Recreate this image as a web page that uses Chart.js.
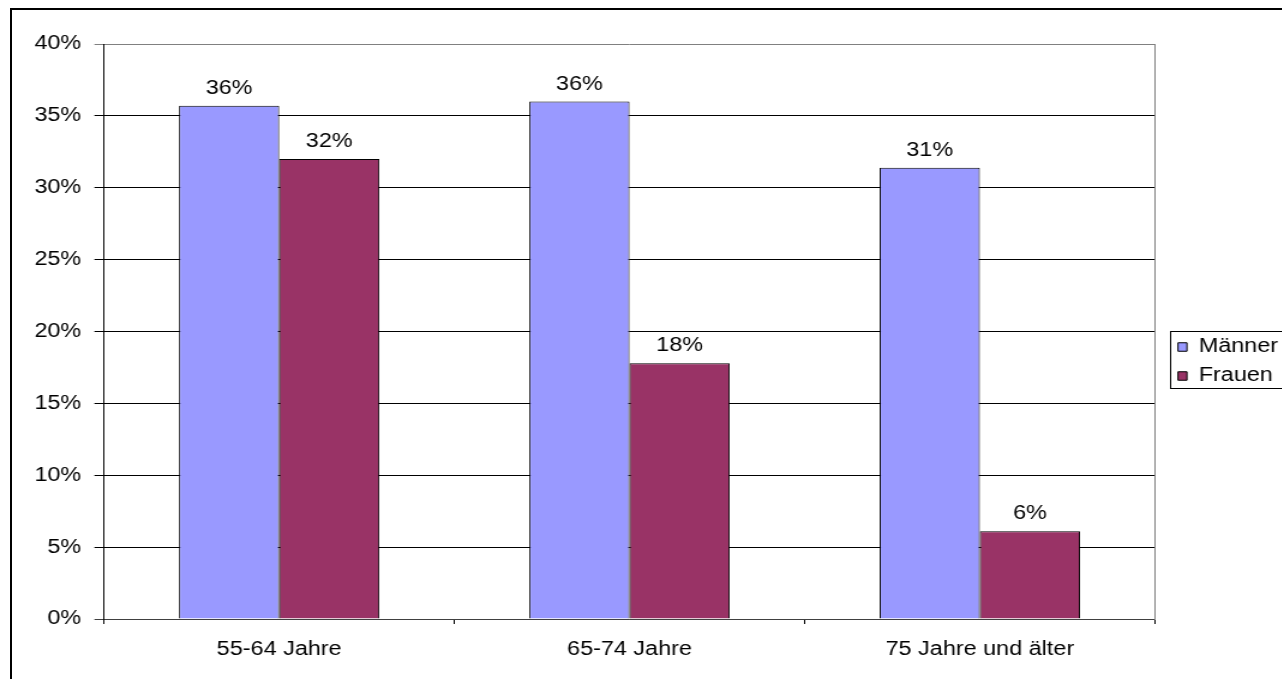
<!DOCTYPE html>
<html>
<head>
<meta charset="utf-8">
<script src="https://cdn.jsdelivr.net/npm/chart.js@4/dist/chart.umd.min.js"></script>
<style>
  html, body { margin: 0; padding: 0; background: #fff; }
  #wrap { position: absolute; left: 0; top: 0; width: 1282px; height: 679px; overflow: hidden; background: #fff; }
  #frame { position: absolute; left: 10px; top: 8px; width: 1400px; height: 800px; border: 2px solid #000; box-sizing: border-box; }
  #c { position: absolute; left: 0; top: 0; transform-origin: 0 0; }
</style>
</head>
<body>
<div id="wrap">
  <div id="frame"></div>
  <canvas id="c" height="679"></canvas>
</div>
<script>
// ---- data ----
const categories = ['55-64 Jahre', '65-74 Jahre', '75 Jahre und älter'];
const seriesNames = ['Männer', 'Frauen'];
const maenner = [35.7, 36.0, 31.4];
const frauen = [32.0, 17.8, 6.1];
const yTicks = [0, 5, 10, 15, 20, 25, 30, 35, 40];

// ---- layout helpers ----
const S = 1.2;                 // horizontal stretch of the reference rendering
const FONT_SIZE = 19.5;
const FONT_FAMILY = "'Liberation Sans', Arial, sans-serif";
const LEG_PAD = 9.5, BOX_W = 7.5, BOX_H = 8.5;
const meas = document.createElement('canvas').getContext('2d');
meas.font = FONT_SIZE + 'px ' + FONT_FAMILY;
const tw = Math.max(...seriesNames.map(n => meas.measureText(n).width));
const legendWidth = LEG_PAD + BOX_W + FONT_SIZE / 2 + tw + 10;
const plotLeft = 104 / S;
const plotRight = 1155 / S;
const gap = 9.5;
const W = Math.ceil(plotRight + gap + legendWidth);
const y2Width = W - legendWidth - plotRight;

const canvas = document.getElementById('c');
canvas.width = W;
canvas.height = 679;
canvas.style.transform = 'scaleX(' + S + ')';

const font = { family: FONT_FAMILY, size: FONT_SIZE };

const valueLabels = {
  id: 'valueLabels',
  afterDatasetsDraw(chart) {
    const ctx = chart.ctx;
    ctx.save();
    ctx.font = FONT_SIZE + 'px ' + FONT_FAMILY;
    ctx.fillStyle = '#000';
    ctx.textAlign = 'center';
    ctx.textBaseline = 'alphabetic';
    chart.data.datasets.forEach((ds, i) => {
      chart.getDatasetMeta(i).data.forEach((bar, j) => {
        ctx.fillText(Math.round(ds.data[j]) + '%', bar.x, bar.y - 12);
      });
    });
    ctx.restore();
  }
};

const legendFrame = {
  id: 'legendFrame',
  afterDraw(chart) {
    const hb = chart.legend && chart.legend.legendHitBoxes;
    if (!hb || !hb.length) return;
    const ctx = chart.ctx;
    const left = hb[0].left - 7;
    const top = hb[0].top - 6.5;
    const last = hb[hb.length - 1];
    const bottom = last.top + last.height + 1.5;
    ctx.save();
    ctx.strokeStyle = '#000';
    ctx.lineWidth = 1;
    ctx.strokeRect(Math.round(left) + 0.5, Math.round(top) + 0.5, chart.width, Math.round(bottom - top));
    ctx.restore();
  }
};

new Chart(canvas, {
  type: 'bar',
  data: {
    labels: categories,
    datasets: [
      { label: seriesNames[0], data: maenner, backgroundColor: '#9999FF', borderColor: '#000', borderWidth: 1 },
      { label: seriesNames[1], data: frauen, backgroundColor: '#993366', borderColor: '#000', borderWidth: 1 }
    ]
  },
  options: {
    responsive: false,
    devicePixelRatio: 1,
    animation: false,
    layout: { padding: { top: 44, left: 0, right: 0, bottom: 0 } },
    datasets: { bar: { categoryPercentage: 0.572, barPercentage: 1.0 } },
    plugins: {
      legend: {
        position: 'right',
        align: 'center',
        labels: { font: font, color: '#000', boxWidth: BOX_W, boxHeight: BOX_H, padding: LEG_PAD }
      },
      tooltip: { enabled: false }
    },
    scales: {
      x: {
        grid: { display: true, drawOnChartArea: false, drawTicks: true, tickLength: 5, color: '#000', offset: true },
        border: { display: true, color: '#404040', width: 1 },
        ticks: { font: font, color: '#000', padding: 14, maxRotation: 0 },
        afterFit(s) { s.height = 60; }
      },
      y: {
        min: 0, max: 40,
        afterBuildTicks(s) { s.ticks = yTicks.map(v => ({ value: v })); },
        grid: {
          color: (c) => (c.tick && c.tick.value === 40) ? '#808080' : (c.tick && c.tick.value === 0 ? '#404040' : '#000'),
          tickLength: 8,
          drawTicks: true
        },
        border: { display: true, color: '#000', width: 1 },
        ticks: { font: font, color: '#000', padding: 11, callback: (v) => v + '%' },
        afterFit(s) { s.width = plotLeft; }
      },
      y2: {
        position: 'right',
        display: true,
        grid: { display: false },
        ticks: { display: false },
        border: { display: true, color: '#808080', width: 1 },
        afterFit(s) { s.width = y2Width; }
      }
    }
  },
  plugins: [valueLabels, legendFrame]
});
</script>
</body>
</html>
